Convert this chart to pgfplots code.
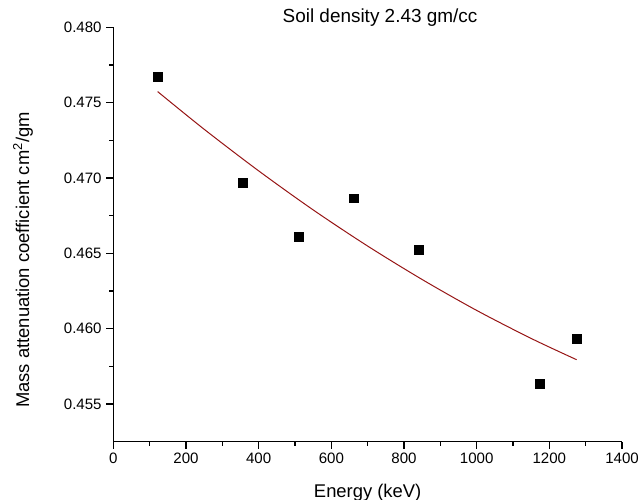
\documentclass[border=0pt]{standalone}
\usepackage{pgfplots}
\pgfplotsset{compat=1.18}
\usepackage{fontspec}
\setmainfont{Liberation Sans}
\definecolor{fitred}{RGB}{150,20,20}
\begin{document}
\begin{tikzpicture}
\path[use as bounding box] (-85pt,-43pt) rectangle (395.75pt,331.25pt);
\begin{axis}[
  scale only axis, width=381.5pt, height=310.8pt,
  xmin=0, xmax=1400, ymin=0.4525, ymax=0.480,
  axis x line*=bottom, axis y line*=left,
  xtick={0,200,400,600,800,1000,1200,1400}, minor x tick num=1,
  ytick={0.455,0.460,0.465,0.470,0.475,0.480}, minor y tick num=1,
  tick align=outside, major tick length=5.25pt, minor tick length=3pt,
  xticklabel style={/pgf/number format/.cd, 1000 sep={}},
  yticklabel style={/pgf/number format/.cd, fixed, fixed zerofill, precision=3},
  /pgf/number format/assume math mode=true,
  tick label style={font=\fontsize{11.3}{13}\selectfont, black},
  label style={font=\fontsize{13.8}{16}\selectfont},
  xlabel={Energy (keV)},
  ylabel={Mass attenuation coefficient cm\textsuperscript{2}/gm},
  xlabel style={at={(axis description cs:0.5,0)}, anchor=base, yshift=-41.5pt},
  ylabel style={at={([xshift=-67.7pt]axis description cs:0,0.4385)}, anchor=center},
  axis line style={line width=1.1pt, black},
  tick style={line width=1.1pt, black},
  clip=false,
]
\addplot[only marks, mark=square*, mark size=3.25pt, black] coordinates {
  (122,0.4767) (356,0.4697) (511,0.4661) (662,0.46866) (840,0.46523) (1173,0.45635) (1275,0.45933)
};
\addplot[fitred, line width=0.75pt, smooth] coordinates {
  (122,0.47573) (250,0.47323) (400,0.47047) (550,0.46788) (700,0.46548)
  (850,0.46326) (1000,0.46121) (1150,0.45935) (1275,0.45794)
};
\node[anchor=base, font=\fontsize{14.2}{16}\selectfont, yshift=3.2pt] at (axis cs:734,0.480) {Soil density 2.43 gm/cc};
\end{axis}
\end{tikzpicture}
\end{document}
